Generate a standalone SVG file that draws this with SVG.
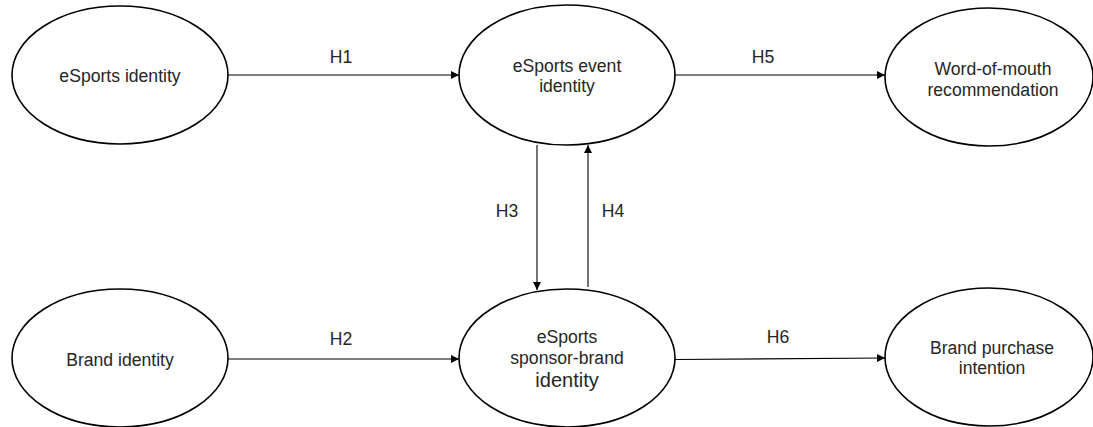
<svg xmlns="http://www.w3.org/2000/svg" width="1093" height="427" viewBox="0 0 1093 427">
<defs>
<style>
.node ellipse{fill:#fff;stroke:#000;stroke-width:1.6}
.node text,.lbl{font-family:"Liberation Sans",Arial,sans-serif;font-size:17.6px;fill:#262626;text-anchor:middle}
.edge{stroke:#000;stroke-width:1.1;fill:none;marker-end:url(#ah)}
</style>
<marker id="ah" viewBox="0 0 10 10" refX="10" refY="5" markerWidth="8" markerHeight="8" markerUnits="userSpaceOnUse" orient="auto">
<path d="M0,0 L10,5 L0,10 z" fill="#000"/>
</marker>
</defs>
<rect width="1093" height="427" fill="#fff"/>
<g id="connectors">
<line class="edge" x1="228" y1="75" x2="459" y2="75"/>
<line class="edge" x1="675" y1="75" x2="885" y2="75"/>
<line class="edge" x1="228" y1="359" x2="459" y2="359"/>
<line class="edge" x1="675" y1="359.5" x2="885" y2="358"/>
<line class="edge" x1="537" y1="145" x2="537" y2="290"/>
<line class="edge" x1="588" y1="287" x2="588" y2="145"/>
<text class="lbl" x="341" y="63">H1</text>
<text class="lbl" x="763" y="63">H5</text>
<text class="lbl" x="341" y="345">H2</text>
<text class="lbl" x="778" y="343">H6</text>
<text class="lbl" x="507" y="217">H3</text>
<text class="lbl" x="613" y="217">H4</text>
</g>
<g id="n1" class="node">
<ellipse cx="120" cy="75" rx="108" ry="69"/>
<text x="120" y="82">eSports identity</text>
</g>
<g id="n2" class="node">
<ellipse cx="567" cy="75" rx="108" ry="70"/>
<text x="567" y="72">eSports event</text>
<text x="567" y="92">identity</text>
</g>
<g id="n3" class="node">
<ellipse cx="989" cy="77" rx="104" ry="69"/>
<text x="993" y="75">Word-of-mouth</text>
<text x="993" y="96">recommendation</text>
</g>
<g id="n4" class="node">
<ellipse cx="120" cy="358" rx="108" ry="69"/>
<text x="120" y="366">Brand identity</text>
</g>
<g id="n5" class="node">
<ellipse cx="567" cy="358" rx="108" ry="69"/>
<text x="567" y="343">eSports</text>
<text x="567" y="364">sponsor-brand</text>
<text x="567" y="387" style="font-size:20px">identity</text>
</g>
<g id="n6" class="node">
<ellipse cx="989" cy="357" rx="104" ry="69"/>
<text x="992" y="354">Brand purchase</text>
<text x="992" y="374">intention</text>
</g>
</svg>
